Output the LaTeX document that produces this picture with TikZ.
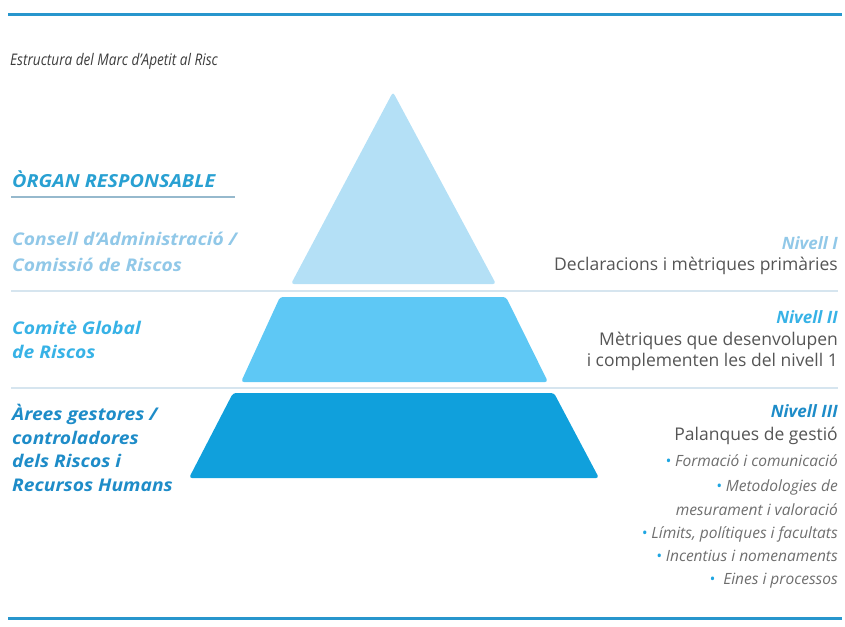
\documentclass[tikz,border=0pt]{standalone}
\usepackage{fontspec}
\setmainfont{Open Sans}
\newfontfamily\titlefont{Open Sans}[FakeStretch=0.85]
\newfontfamily\widefont{Open Sans}[FakeStretch=1.1]

\definecolor{rulblue}{RGB}{40,150,205}
\definecolor{sepgray}{RGB}{214,229,239}
\definecolor{ulgray}{RGB}{150,185,205}
\definecolor{titlegray}{RGB}{60,60,60}
\definecolor{txtgray}{RGB}{85,85,85}
\definecolor{bulgray}{RGB}{110,110,110}
\definecolor{lvlone}{RGB}{180,224,246}
\definecolor{lvltwo}{RGB}{94,200,245}
\definecolor{lvlthree}{RGB}{16,160,220}
\definecolor{orgblue}{RGB}{40,160,210}
\definecolor{txtone}{RGB}{145,200,232}
\definecolor{txttwo}{RGB}{55,178,230}
\definecolor{txtthree}{RGB}{30,140,200}
\definecolor{bulblue}{RGB}{30,165,225}

\tikzset{
  lt/.style={anchor=base west, inner sep=0pt, font=\widefont\fontsize{17.5}{20}\selectfont\bfseries\itshape},
  rt/.style={anchor=base east, inner sep=0pt, font=\fontsize{17.5}{20}\selectfont, text=txtgray},
  nivell/.style={anchor=base east, inner sep=0pt, font=\fontsize{17}{20}\selectfont\bfseries\itshape},
  bul/.style={anchor=base east, inner sep=0pt, font=\fontsize{15.5}{18}\selectfont\itshape, text=bulgray},
  sep/.style={sepgray, line width=1.2pt}
}
\newcommand{\bl}{\textcolor{bulblue}{\textbullet}~}

\begin{document}
\begin{tikzpicture}[x=1pt,y=-1pt]
\useasboundingbox (0,0) rectangle (845,626);
% top and bottom rules
\draw[rulblue, line width=3pt] (8,15) -- (842,15);
\draw[rulblue, line width=3pt] (8,618) -- (842,618);
\node[anchor=base west, inner sep=0pt, text=titlegray, font=\titlefont\itshape\fontsize{16}{19}\selectfont] (title) at (10,65) {Estructura del Marc d’Apetit al Risc};

% separators
\draw[sep] (11,291) -- (838,291);
\draw[sep] (11,388) -- (838,388);

% pyramid
\fill[lvlone, rounded corners=3pt] (393,92) -- (496,284) -- (291,284) -- cycle;
\fill[lvltwo, rounded corners=3pt] (280,297) -- (506,297) -- (548,382) -- (241,382) -- cycle;
\fill[lvlthree, rounded corners=3pt] (233,393) -- (554,393) -- (599,478) -- (189,478) -- cycle;

% left column
\node[lt, text=orgblue, font=\widefont\fontsize{18}{21}\selectfont\bfseries\itshape] (organ) at (12,187) {ÒRGAN RESPONSABLE};
\draw[ulgray, line width=1.5pt] (11,197) -- (235,197);
\node[lt, text=txtone] (cons1) at (12,245) {Consell d’Administració /};
\node[lt, text=txtone] (cons2) at (12,271) {Comissió de Riscos};
\node[lt, text=txttwo] (comi1) at (12,334) {Comitè Global};
\node[lt, text=txttwo] (comi2) at (12,358) {de Riscos};
\node[lt, text=txtthree] (arees1) at (12,420) {Àrees gestores /};
\node[lt, text=txtthree] (arees2) at (12,444) {controladores};
\node[lt, text=txtthree] (arees3) at (12,467) {dels Riscos i};
\node[lt, text=txtthree] (arees4) at (12,491) {Recursos Humans};

% right column
\node[nivell, text=txtone] (niv1) at (838,249) {Nivell I};
\node[rt] (decl) at (838,270) {Declaracions i mètriques primàries};
\node[nivell, text=txttwo] (niv2) at (838,323) {Nivell II};
\node[rt] (metr1) at (838,345) {Mètriques que desenvolupen};
\node[rt] (metr2) at (838,366) {i complementen les del nivell 1};
\node[nivell, text=txtthree] (niv3) at (838,417) {Nivell III};
\node[rt] (palan) at (838,440) {Palanques de gestió};
\node[bul] (form) at (838,466) {\bl Formació i comunicació};
\node[bul] (meto1) at (838,491) {\bl Metodologies de};
\node[bul] (meto2) at (838,515) {mesurament i valoració};
\node[bul] (limit) at (838,538) {\bl Límits, polítiques i facultats};
\node[bul] (incen) at (838,561) {\bl Incentius i nomenaments};
\node[bul] (eines) at (838,584) {\bl~Eines i processos};
\end{tikzpicture}
\end{document}
